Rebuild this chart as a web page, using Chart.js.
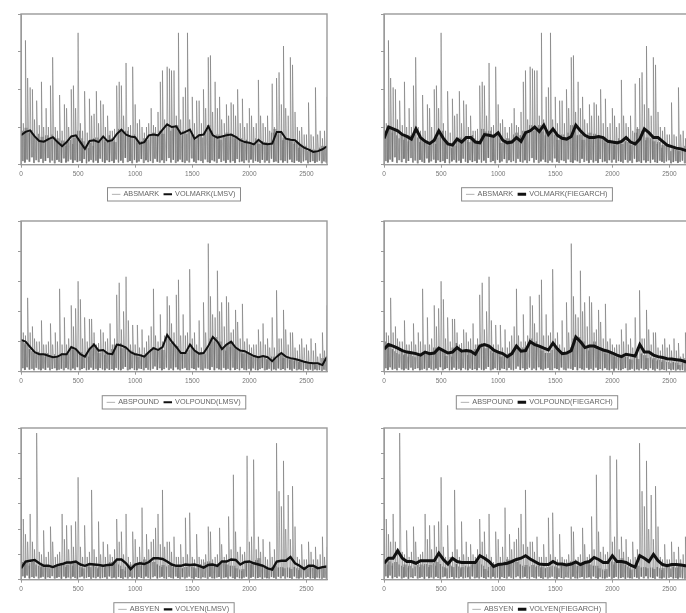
<!DOCTYPE html>
<html><head><meta charset="utf-8">
<script src="https://cdn.jsdelivr.net/npm/chart.js@4"></script>
<style>
html,body{margin:0;padding:0;background:#fff;overflow:hidden;width:686px;height:613px}
.c{position:absolute;filter:blur(0.55px)}
</style></head><body>
<script>
const ABS_STEP=10, VOL_STEP=40;
const absMark=[1.5,.1,1.1,.06,3.3,.14,2.3,.08,2.05,.2,2.0,.05,1.2,.12,1.7,.07,1.05,.16,2.2,.05,1.0,.1,1.5,.18,1.0,.06,2.1,.11,2.85,.04,1.0,.13,.9,.08,1.85,.05,.9,.17,1.6,.06,1.5,.09,1.0,.14,2.0,.05,2.1,.12,1.5,.07,3.5,.1,1.1,.05,.9,.15,1.95,.04,.85,.09,1.75,.13,1.3,.06,1.35,.11,1.95,.05,1.1,.16,1.7,.08,1.6,.05,1.0,.12,1.3,.07,.9,.1,.9,.05,.95,.14,2.1,.06,2.2,.11,2.1,.05,1.3,.18,2.7,.07,1.0,.1,1.05,.04,2.6,.13,1.6,.06,1.1,.09,1.2,.15,1.0,.05,.85,.12,1.0,.07,1.1,.1,1.5,.05,1.05,.16,1.0,.08,1.4,.06,2.2,.12,2.5,.05,1.2,.1,2.6,.18,2.55,.06,2.5,.13,2.5,.05,1.3,.09,3.5,.14,1.2,.07,1.8,.05,2.05,.11,3.5,.06,1.2,.17,1.8,.08,1.1,.05,1.7,.12,1.7,.1,1.1,.05,2.0,.14,1.5,.07,2.85,.05,2.9,.12,1.4,.09,2.2,.05,1.5,.16,1.8,.07,1.2,.11,1.1,.05,1.6,.13,1.3,.06,1.65,.1,1.6,.05,1.3,.15,2.0,.07,1.1,.09,1.75,.05,1.0,.12,1.1,.06,1.5,.14,1.3,.05,1.0,.1,1.1,.08,2.25,.05,1.3,.13,1.1,.06,1.0,.11,1.3,.05,.9,.16,2.15,.07,1.0,.09,2.3,.05,2.45,.12,1.6,.06,3.15,.1,1.5,.05,1.3,.14,2.85,.07,2.65,.05,1.4,.11,1.0,.08,.9,.05,1.0,.09,.8,.12,.8,.04,1.65,.07,.8,.1,.75,.05,2.05,.08,.8,.11,.9,.04,.7,.09,.9,.06,1.8];
const absPound=[1.9,.12,1.3,.06,1.2,.15,2.45,.07,1.3,.1,1.5,.05,1.1,.13,1.0,.08,1.0,.05,1.7,.11,.9,.06,.9,.14,1.0,.05,1.6,.09,.9,.12,1.3,.05,1.0,.07,2.75,.1,.9,.05,1.8,.13,.9,.08,1.1,.05,2.2,.11,1.5,.06,2.1,.15,3.0,.05,2.4,.09,1.1,.12,1.8,.05,1.0,.07,1.75,.14,1.75,.06,1.3,.1,.9,.05,.95,.12,1.4,.08,1.3,.05,1.0,.11,1.1,.06,1.6,.09,.9,.05,1.1,.13,2.55,.07,2.95,.05,1.4,.1,2.0,.16,3.15,.05,1.7,.08,.9,.12,1.55,.06,.9,.05,1.55,.11,.8,.09,1.4,.05,.8,.13,1.0,.07,1.2,.05,1.5,.1,2.75,.18,1.2,.06,1.0,.12,1.9,.05,1.0,.09,1.2,.14,2.5,.06,2.2,.11,1.6,.05,1.3,.15,2.55,.08,3.05,.05,1.2,.1,1.9,.13,1.2,.06,1.3,.05,3.4,.12,1.1,.09,1.3,.05,.9,.14,1.7,.07,.8,.05,2.3,.11,1.3,.1,4.25,.06,2.5,.16,1.9,.05,1.8,.12,3.35,.08,2.0,.05,2.3,.13,1.5,.07,2.5,.1,2.3,.05,1.3,.14,1.4,.06,2.05,.09,1.65,.05,1.1,.12,2.25,.07,1.0,.05,1.1,.1,.9,.04,.8,.11,.9,.06,.9,.05,1.4,.09,1.0,.12,1.6,.05,.9,.07,1.1,.1,.8,.04,1.8,.08,.8,.05,2.7,.11,1.1,.06,1.1,.09,2.05,.05,1.4,.12,.9,.07,1.3,.04,1.3,.1,.8,.05,.7,.08,.9,.06,1.1,.04,.8,.09,.9,.05,.7,.07,1.1,.04,.7,.08,.95,.05,.5,.06,.6,.03,1.3,.07,.7,.04,2.2];
const absYen=[3.0,.14,2.4,.08,1.8,.17,1.5,.05,2.6,.11,1.5,.07,1.2,.13,5.8,.05,1.1,.09,1.0,.12,1.95,.04,.9,.1,1.1,.07,2.1,.14,1.5,.05,.9,.08,1.0,.11,1.1,.04,2.6,.13,1.6,.06,2.15,.09,1.2,.05,2.15,.12,1.3,.07,2.3,.04,4.05,.1,1.3,.13,.9,.05,2.15,.08,.9,.11,1.1,.04,3.55,.09,1.2,.06,.9,.12,2.3,.05,1.0,.08,1.5,.1,.9,.04,1.4,.13,1.0,.06,.9,.09,1.2,.05,2.4,.11,1.5,.07,1.9,.04,1.0,.1,2.6,.05,.9,.12,.7,.06,1.9,.09,1.6,.04,.9,.11,1.3,.07,2.85,.05,.9,.13,1.8,.08,1.2,.04,1.5,.1,1.6,.14,2.05,.05,2.6,.09,1.4,.12,3.55,.06,1.3,.04,1.5,.11,1.5,.08,1.1,.05,1.7,.13,.9,.07,.9,.04,1.4,.1,.9,.05,2.45,.09,1.0,.12,2.65,.06,.9,.04,.8,.11,1.8,.07,.9,.05,.8,.1,.8,.08,1.0,.04,2.1,.12,1.9,.06,.8,.05,.9,.09,1.0,.11,2.05,.04,1.4,.08,.9,.1,1.0,.05,2.5,.13,1.2,.07,4.15,.04,1.9,.1,1.1,.06,1.3,.05,1.0,.09,1.1,.12,4.9,.04,1.5,.08,1.7,.11,4.75,.05,1.2,.07,1.7,.1,1.1,.04,1.6,.09,.9,.06,.8,.05,1.5,.11,.9,.08,1.2,.04,5.4,.12,3.5,.06,2.9,.14,4.7,.05,2.0,.1,3.35,.07,1.6,.04,3.7,.13,2.1,.06,.9,.05,.8,.09,1.4,.04,.8,.08,.8,.11,1.5,.05,1.1,.07,.8,.04,1.3,.09,.8,.06,1.0,.04,1.7,.08,.9,.05,1.3];
const bodyMark=[.72,.9,.98,.85,.92,.78,.7,.82,.66,.74,.62,.78,.68,.8,.72,.6,.7,.58,.64,.5,.6,.66,.55,.72,.8,.9,.7,.62,.52,.44,.58,.5,.7,.72,.62,.74,.66,.6,.78,.7,.64,.6,.82,.95,.88,.78,.9,.72,.76,.8,.7,.58,.62,.55,.7,.66,.8,.72,.85,.78,.7,.9,.82,.95,1.05,.9,1.0,.85,1.05,.88,.78,.9,.82,.95,.7,.8,.66,.74,.8,.72,.85,.95,1.05,.9,.78,.7,.8,.66,.78,.72,.85,.75,.82,.7,.76,.62,.7,.58,.66,.55,.6,.52,.7,.62,.55,.62,.5,.6,.52,.62,.85,.95,.8,.9,.65,.72,.6,.7,.62,.55,.6,.45,.52,.4,.5,.36,.42,.34,.4,.36,.45,.38,.5,.42,.46,.5,.44,.52];
const bodyPound=[1.0,.95,.9,.75,.68,.62,.58,.66,.55,.6,.5,.62,.52,.48,.58,.5,.55,.62,.5,.6,.58,.66,.8,.72,.7,.58,.65,.52,.6,.5,.8,.95,.78,.7,.62,.72,.55,.66,.6,.52,.75,.9,.82,.95,.78,.85,.7,.62,.7,.55,.62,.5,.58,.48,.55,.62,.75,.65,.82,.7,.65,.8,.72,.9,1.1,.95,1.0,.8,.85,.7,.62,.55,.62,.72,.9,.78,.68,.6,.55,.65,.58,.7,.8,1.1,1.0,1.15,.9,1.0,.78,.7,.9,.82,1.0,.85,.75,.7,.65,.6,.68,.55,.6,.5,.55,.45,.52,.48,.5,.42,.4,.35,.5,.42,.6,.5,.55,.45,.48,.4,.45,.35,.4,.32,.38,.3,.32,.28,.32,.25,.3,.22,.28,.3,.45,.4,.42,.5,.46,.52];
const bodyYen=[.7,.6,.72,.55,.65,.7,.6,.55,.5,.6,.48,.55,.45,.52,.58,.5,.6,.55,.62,.5,.58,.65,.55,.7,.62,.52,.5,.45,.6,.55,.5,.62,.52,.45,.5,.55,.48,.52,.6,.7,.62,.75,.6,.55,.42,.35,.5,.55,.6,.52,.58,.62,.55,.72,.8,.7,.78,.65,.7,.6,.55,.5,.58,.48,.52,.58,.5,.55,.48,.52,.45,.4,.5,.55,.48,.52,.45,.55,.62,.55,.68,.6,.72,.65,.55,.5,.6,.65,.55,.68,.6,.55,.5,.55,.45,.4,.35,.42,.65,.72,.6,.7,.65,.78,.85,.6,.52,.48,.4,.5,.45,.55,.48,.42,.5,.45,.4,.48,.42,.5,.45,.38,.46,.42,.5,.44,.52,.4,.48,.55,.42,.5,.46,.52,.44,.48];
const volMarkLmsv=[.78,.87,.91,.75,.63,.61,.68,.73,.6,.49,.6,.75,.78,.6,.42,.63,.65,.6,.75,.62,.65,.82,.93,.8,.75,.73,.56,.6,.78,.8,.78,.93,1.07,1.0,1.02,.82,.87,.93,.69,.78,.8,1.02,.78,.72,.75,.78,.8,.74,.65,.6,.58,.54,.66,.56,.54,.56,.87,.87,.69,.66,.65,.54,.45,.4,.34,.36,.41,.49];
const volMarkFiegarch=[.7,1.0,.95,.9,.8,.75,.68,.95,.72,.62,.56,.65,.9,.7,.55,.52,.68,.6,.72,.72,.6,.58,.8,.78,.75,.85,.65,.58,.6,.72,.62,.85,.9,1.0,.88,1.05,.8,.95,.78,.7,.68,.75,1.05,.9,.78,.72,.72,.75,.72,.62,.6,.58,.62,.72,.6,.55,.68,.95,.85,.72,.72,.62,.52,.48,.44,.42,.38,.36];
const volPoundLmsv=[1.05,1.0,.82,.65,.58,.58,.53,.48,.5,.58,.58,.82,.75,.58,.5,.75,.9,.7,.72,.6,.58,.9,.87,.8,.65,.58,.55,.5,.65,.78,.72,.82,1.22,1.0,.82,.62,.62,.9,.7,.6,.62,.85,1.15,1.0,.75,.9,1.0,.8,.7,.68,.6,.52,.48,.52,.48,.35,.5,.62,.5,.45,.42,.38,.33,.3,.28,.28,.22,.5];
const volPoundFiegarch=[.75,.9,.85,.78,.7,.65,.63,.6,.55,.65,.6,.62,.78,.7,.62,.65,.8,.68,.7,.68,.58,.85,.9,.85,.72,.65,.6,.5,.6,.85,.68,.7,1.0,.9,.85,.78,.72,.95,.75,.6,.62,.7,1.15,1.0,.8,.85,.85,.78,.72,.68,.62,.55,.5,.58,.55,.52,.9,.65,.65,.55,.5,.47,.43,.42,.4,.38,.33,.3];
const volYenLmsv=[.45,.72,.75,.78,.65,.55,.55,.5,.58,.62,.68,.68,.72,.6,.55,.62,.6,.58,.55,.58,.6,.8,.8,.65,.42,.6,.65,.62,.7,.85,.85,.82,.72,.6,.55,.55,.6,.58,.6,.55,.48,.58,.6,.55,.72,.72,.8,.78,.6,.7,.72,.65,.6,.55,.45,.4,.72,.75,.75,.9,.65,.55,.42,.55,.55,.45,.5,.52];
const volYenFiegarch=[.65,.85,.85,1.15,.85,.72,.72,.65,.75,.75,.75,.75,1.05,.8,.62,.85,.72,.68,.68,.68,.68,.95,.85,.72,.52,.6,.62,.65,.72,.8,.85,.95,.82,.72,.62,.6,.6,.72,.62,.62,.58,.62,.7,.6,.68,.72,.88,.8,.68,.68,.95,.72,.72,.68,.58,.5,.95,.85,.72,1.0,.75,.6,.55,.6,.6,.58,.55,.52];
const xTicks=[0,500,1000,1500,2000,2500];

const panels=[
 {l:0,  t:0,  pad:14,absN:'ABSMARK', volN:'VOLMARK(LMSV)',      abs:absMark,  body:bodyMark, vol:volMarkLmsv,      yMax:4,xh:21,lw:2},
 {l:363,t:0,  pad:14,absN:'ABSMARK', volN:'VOLMARK(FIEGARCH)',  abs:absMark,  body:bodyMark, vol:volMarkFiegarch,  yMax:4,xh:21,lw:3},
 {l:0,  t:208,pad:13,absN:'ABSPOUND',volN:'VOLPOUND(LMSV)',     abs:absPound, body:bodyPound,vol:volPoundLmsv,     yMax:5,xh:22,lw:2},
 {l:363,t:208,pad:13,absN:'ABSPOUND',volN:'VOLPOUND(FIEGARCH)', abs:absPound, body:bodyPound,vol:volPoundFiegarch, yMax:5,xh:22,lw:3},
 {l:0,  t:415,pad:13,absN:'ABSYEN',  volN:'VOLYEN(LMSV)',       abs:absYen,   body:bodyYen,  vol:volYenLmsv,       yMax:6,xh:21,lw:2.4},
 {l:363,t:415,pad:13,absN:'ABSYEN',  volN:'VOLYEN(FIEGARCH)',   abs:absYen,   body:bodyYen,  vol:volYenFiegarch,   yMax:6,xh:21,lw:3}
];
// every second entry of abs is a trough; body readings and the same trough follow it
function absPoints(abs,body){
  const pts=[];
  abs.forEach((v,i)=>{
    pts.push({x:i*ABS_STEP,y:v});
    if(i%2===1){
      const k=(i-1)/2;
      pts.push({x:i*ABS_STEP+2,y:body[k]});
      pts.push({x:i*ABS_STEP+4,y:v});
      pts.push({x:i*ABS_STEP+6,y:body[k+1]});
      pts.push({x:i*ABS_STEP+8,y:v});
    }
  });
  return pts;
}
const frame={id:'frame',afterDraw(ch){
  const c=ch.ctx,a=ch.chartArea,h=ch.legend.legendHitBoxes;
  c.save();c.strokeStyle='#9a9a9a';c.lineWidth=1.4;
  c.strokeRect(a.left,a.top,a.right-a.left,a.bottom-a.top);
  if(h&&h.length){
    const x0=Math.min(...h.map(b=>b.left))-5,x1=Math.max(...h.map(b=>b.left+b.width))+5;
    const y0=h[0].top-3,y1=h[0].top+h[0].height+3;
    c.lineWidth=1;c.strokeStyle='#8a8a8a';c.strokeRect(x0,y0,x1-x0,y1-y0);
  }
  c.restore();
}};
panels.forEach(p=>{
  const cv=document.createElement('canvas');
  cv.className='c';cv.width=348;cv.height=210;
  cv.style.cssText=`left:${p.l}px;top:${p.t}px;width:348px;height:210px`;
  document.body.appendChild(cv);
  const font={family:'"Liberation Sans",Arial,sans-serif',size:6.5};
  const legendFont={family:'"Liberation Sans",Arial,sans-serif',size:7.3};
  new Chart(cv,{type:'line',plugins:[frame],data:{datasets:[
    {label:p.absN,data:absPoints(p.abs,p.body),borderColor:'rgba(105,105,105,0.52)',borderWidth:1,pointRadius:0,tension:0,order:2},
    {label:p.volN,data:p.vol.map((v,i)=>({x:i*VOL_STEP,y:v})),borderColor:'#111',borderWidth:p.lw,pointRadius:0,tension:0,order:1}
  ]},options:{responsive:false,animation:false,events:[],
    layout:{padding:{left:21,right:21,top:p.pad,bottom:2}},
    plugins:{tooltip:{enabled:false},title:{display:false},
      legend:{position:'bottom',labels:{font:legendFont,color:'#666',usePointStyle:true,pointStyle:'line',boxWidth:16,boxHeight:6,padding:5,sort:(a,b)=>a.datasetIndex-b.datasetIndex}}},
    scales:{
      x:{type:'linear',min:0,max:2680,afterFit(s){s.height=p.xh},
         afterBuildTicks(s){s.ticks=xTicks.map(v=>({value:v}))},
         grid:{display:true,drawOnChartArea:false,drawTicks:true,tickLength:3,color:'#9a9a9a'},border:{color:'#9a9a9a'},
         ticks:{font,color:'#777',maxRotation:0,padding:3,callback:v=>String(v)}},
      y:{min:0,max:p.yMax,afterFit(s){s.width=0},
         grid:{display:true,drawOnChartArea:false,drawTicks:true,tickLength:3,color:'#9a9a9a'},border:{color:'#9a9a9a'},
         ticks:{font,color:'#777',stepSize:1,padding:6}}
    }}});
});
</script></body></html>
